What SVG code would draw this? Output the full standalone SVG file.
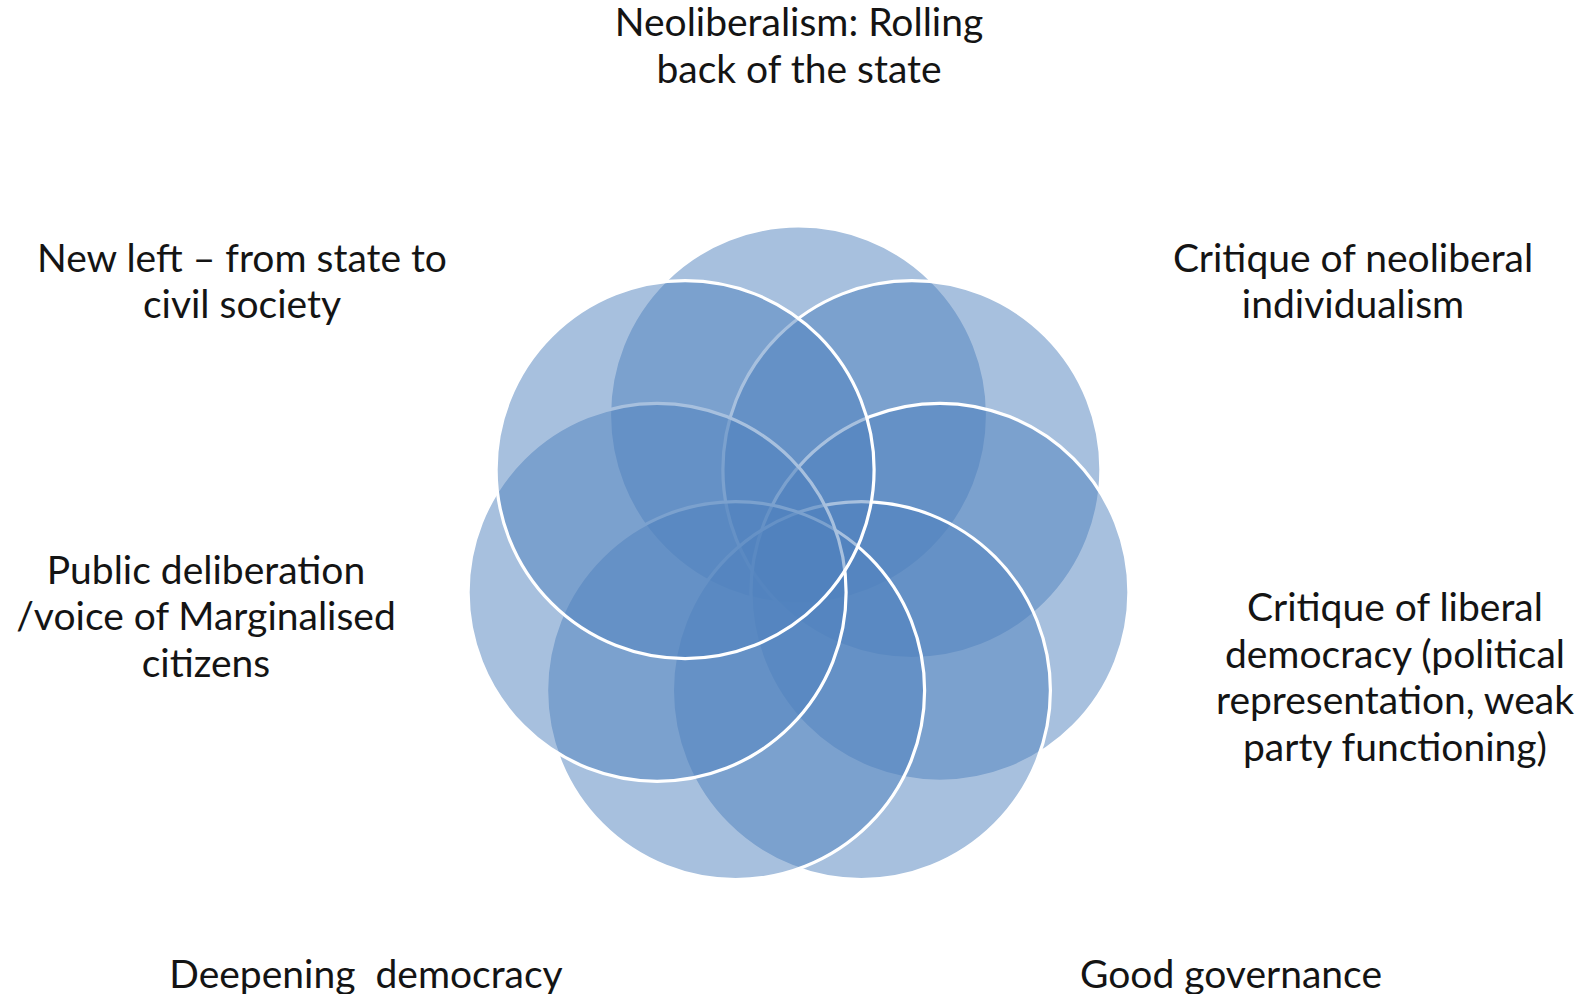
<svg xmlns="http://www.w3.org/2000/svg" width="1595" height="994" viewBox="0 0 1595 994">
  <style>
    .ring { fill: #4F81BD; fill-opacity: 0.5; stroke: #FFFFFF; stroke-width: 3.2; }
    .label { font-family: Lato, "Open Sans", "Liberation Sans", sans-serif; font-size: 39px; fill: #141414; text-anchor: middle; white-space: pre; }
  </style>
  <rect width="1595" height="994" fill="#FFFFFF"/>

  <!-- seven overlapping rings, drawn clockwise from the top; each later ring sits over the earlier ones -->
  <g id="node-neoliberalism">
    <circle class="ring" cx="798.5" cy="415" r="189"/>
    <text class="label" x="799" y="36">Neoliberalism: Rolling</text>
    <text class="label" x="799" y="83">back of the state</text>
  </g>
  <g id="node-critique-individualism">
    <circle class="ring" cx="911.9" cy="469.6" r="189"/>
    <text class="label" x="1353" y="272">Critique of neoliberal</text>
    <text class="label" x="1353" y="318">individualism</text>
  </g>
  <g id="node-critique-liberal-democracy">
    <circle class="ring" cx="939.9" cy="592.3" r="189"/>
    <text class="label" x="1395" y="621">Critique of liberal</text>
    <text class="label" x="1395" y="668">democracy (political</text>
    <text class="label" x="1395" y="714">representation, weak</text>
    <text class="label" x="1395" y="761">party functioning)</text>
  </g>
  <g id="node-good-governance">
    <circle class="ring" cx="861.4" cy="690.6" r="189"/>
    <text class="label" x="1231" y="988">Good governance</text>
  </g>
  <g id="node-deepening-democracy">
    <circle class="ring" cx="735.6" cy="690.6" r="189"/>
    <text class="label" x="366" y="988">Deepening  democracy</text>
  </g>
  <g id="node-public-deliberation">
    <circle class="ring" cx="657.1" cy="592.3" r="189"/>
    <text class="label" x="206" y="584">Public deliberation</text>
    <text class="label" x="206" y="630">/voice of Marginalised</text>
    <text class="label" x="206" y="677">citizens</text>
  </g>
  <g id="node-new-left">
    <circle class="ring" cx="685.1" cy="469.6" r="189"/>
    <text class="label" x="242" y="272">New left – from state to</text>
    <text class="label" x="242" y="318">civil society</text>
  </g>
</svg>
